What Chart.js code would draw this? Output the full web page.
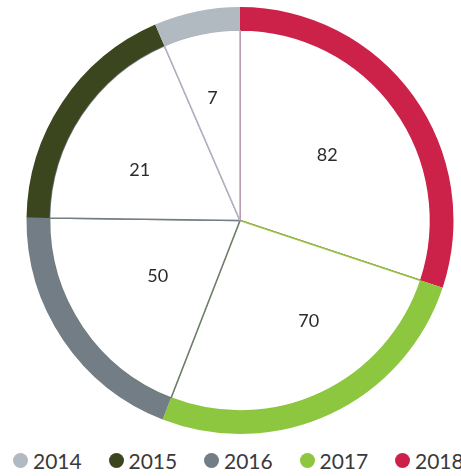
<!DOCTYPE html>
<html>
<head>
<meta charset="utf-8">
<script src="https://cdn.jsdelivr.net/npm/chart.js@4/dist/chart.umd.min.js"></script>
<style>
  html, body { margin: 0; padding: 0; background: #fff; }
  #wrap { position: relative; width: 461px; height: 440px; }
  #legend { display: flex; height: 46px; align-items: center; padding-left: 13px; margin-top: -3px;
            font-family: Lato, "Liberation Sans", sans-serif; font-size: 21px; color: #3a3a3a; }
  #legend .item { width: 95.5px; display: flex; align-items: center; flex: none; }
  #legend .dot { width: 15px; height: 15px; border-radius: 50%; margin-right: 5px; }
</style>
</head>
<body>
<div id="wrap"><canvas id="chart"></canvas></div>
<div id="legend"></div>
<script>
// clockwise from the top, as drawn
const years = ['2018', '2017', '2016', '2015', '2014'];
const values = [82, 70, 50, 21, 7];          // numbers printed in the slices
const shares = [30.1, 25.8, 19.3, 18.3, 6.5]; // slice size in % of the circle

const colors = ['#cc2249', '#8dc63f', '#737d85', '#3c461e', '#b1b9c1'];
const lineColors = ['#cc2249', '#8dc63f', '#6f7b70', '#737d85', '#b3b3c3'];
// posición de cada número: [fracción del radio, giro en grados]
const labelPlace = [[0.572, -1], [0.642, -9], [0.521, 0], [0.589, -7], [0.658, -1]];

// Etiquetas numéricas dentro de cada porción
const sliceLabels = {
    id: 'sliceLabels',
    afterDatasetsDraw(chart) {
        const meta = chart.getDatasetMeta(1);
        const ctx = chart.ctx;
        ctx.save();
        ctx.font = '18px Lato, "Liberation Sans", sans-serif';
        ctx.fillStyle = '#2a2a2a';
        ctx.textAlign = 'center';
        ctx.textBaseline = 'middle';
        meta.data.forEach((arc, i) => {
            const p = arc.getProps(['x', 'y', 'startAngle', 'endAngle', 'outerRadius'], true);
            const a = (p.startAngle + p.endAngle) / 2 + labelPlace[i][1] * Math.PI / 180;
            const r = p.outerRadius * labelPlace[i][0];
            ctx.fillText(String(values[i]), p.x + Math.cos(a) * r, p.y + Math.sin(a) * r);
        });
        ctx.restore();
    }
};

const chart = new Chart(document.getElementById('chart'), {
    type: 'pie',
    data: {
        labels: years,
        datasets: [{
            data: shares,
            backgroundColor: colors,
            borderWidth: 0,
            weight: 23
        }, {
            data: shares,
            backgroundColor: '#fff',
            borderColor: lineColors,
            borderWidth: 1.5,
            weight: 190
        }]
    },
    options: {
        responsive: true,
        maintainAspectRatio: false,
        animation: false,
        layout: { padding: { left: 19, top: 7, right: 0, bottom: 6 } },
        plugins: {
            legend: { display: false },
            tooltip: { enabled: false }
        }
    },
    plugins: [sliceLabels]
});

// Leyenda en HTML, 2014 → 2018
const legend = document.getElementById('legend');
chart.data.labels.map((l, i) => i).reverse().forEach(i => {
    const item = document.createElement('div');
    item.className = 'item';
    const dot = document.createElement('span');
    dot.className = 'dot';
    dot.style.background = colors[i];
    item.appendChild(dot);
    item.appendChild(document.createTextNode(chart.data.labels[i]));
    legend.appendChild(item);
});
</script>
</body>
</html>
